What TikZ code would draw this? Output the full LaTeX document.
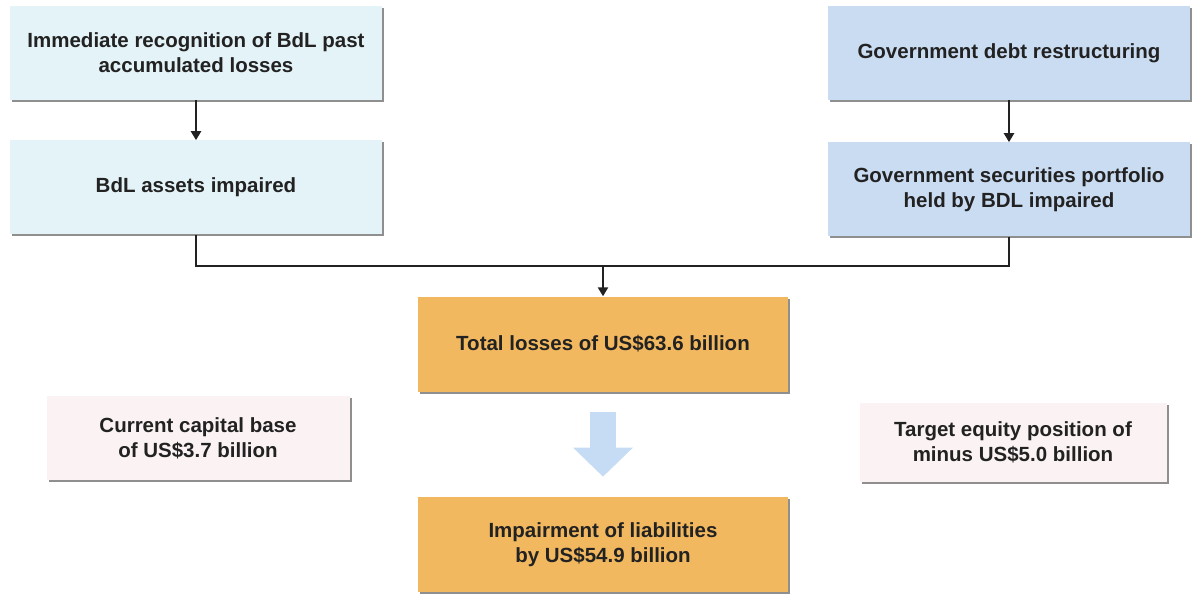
\documentclass[tikz,border=0pt]{standalone}
\usepackage{fontspec}
\setmainfont{Liberation Sans}
\usetikzlibrary{positioning, arrows.meta, shadows}
\definecolor{paleCyan}{HTML}{E4F3F8}
\definecolor{paleBlue}{HTML}{CADCF2}
\definecolor{lossOrange}{HTML}{F2B860}
\definecolor{palePink}{HTML}{FBF3F3}
\definecolor{arrowBlue}{HTML}{C6DCF4}
\definecolor{inkGray}{HTML}{222222}
\tikzset{
	x=1pt, y=-1pt,
	box/.style={
		rectangle,
		align=center,
		text=inkGray,
		font=\fontsize{20.5}{25}\selectfont\bfseries,
		inner sep=0pt,
		drop shadow={shadow xshift=2pt, shadow yshift=-2pt, fill=black!55, opacity=.8}
	},
	cyan box/.style={box, fill=paleCyan, minimum width=372pt, minimum height=94pt},
	blue box/.style={box, fill=paleBlue, minimum width=362pt, minimum height=94pt},
	loss box/.style={box, fill=lossOrange, minimum width=370pt, minimum height=95pt},
	note box/.style={box, fill=palePink, minimum height=84pt},
	link/.style={
		draw=inkGray,
		line width=2.5pt,
		-{Triangle[length=9pt, width=10pt]}
	},
	plain link/.style={
		draw=inkGray,
		line width=2.5pt
	},
	big arrow/.style={
		draw=arrowBlue,
		line width=26pt,
		-{Triangle[length=29pt, width=58pt]}
	}
}

\begin{document}
\begin{tikzpicture}
	\useasboundingbox (0,0) rectangle (1195,594);

	\node[cyan box] (recog) at (196,53) {Immediate recognition of BdL past\\accumulated losses};
	\node[cyan box, below = 40pt of recog] (assets) {BdL assets impaired};

	\node[blue box] (debt) at (1009,53) {Government debt restructuring};
	\node[blue box, below = 42pt of debt] (secur) {Government securities portfolio\\held by BDL impaired};

	\node[loss box] (total) at (603,344) {Total losses of US\$63.6 billion};
	\node[loss box, below = 105pt of total] (liab) {Impairment of liabilities\\by US\$54.9 billion};

	\node[note box, minimum width=303pt] (capital) at (198,438) {Current capital base\\of US\$3.7 billion};
	\node[note box, minimum width=307pt, minimum height=79pt] (target) at (1013,442) {Target equity position of\\minus US\$5.0 billion};

	\coordinate (join) at (total.north |- 0,266);

	\draw[link] (recog) -- (assets);
	\draw[link] (debt) -- (secur);
	\draw[plain link] (assets.south) |- (join) -| (secur.south);
	\draw[link] (join) -- (total.north);

	\draw[big arrow] ([yshift=-20pt]total.south) -- ([yshift=20pt]liab.north);
\end{tikzpicture}
\end{document}
